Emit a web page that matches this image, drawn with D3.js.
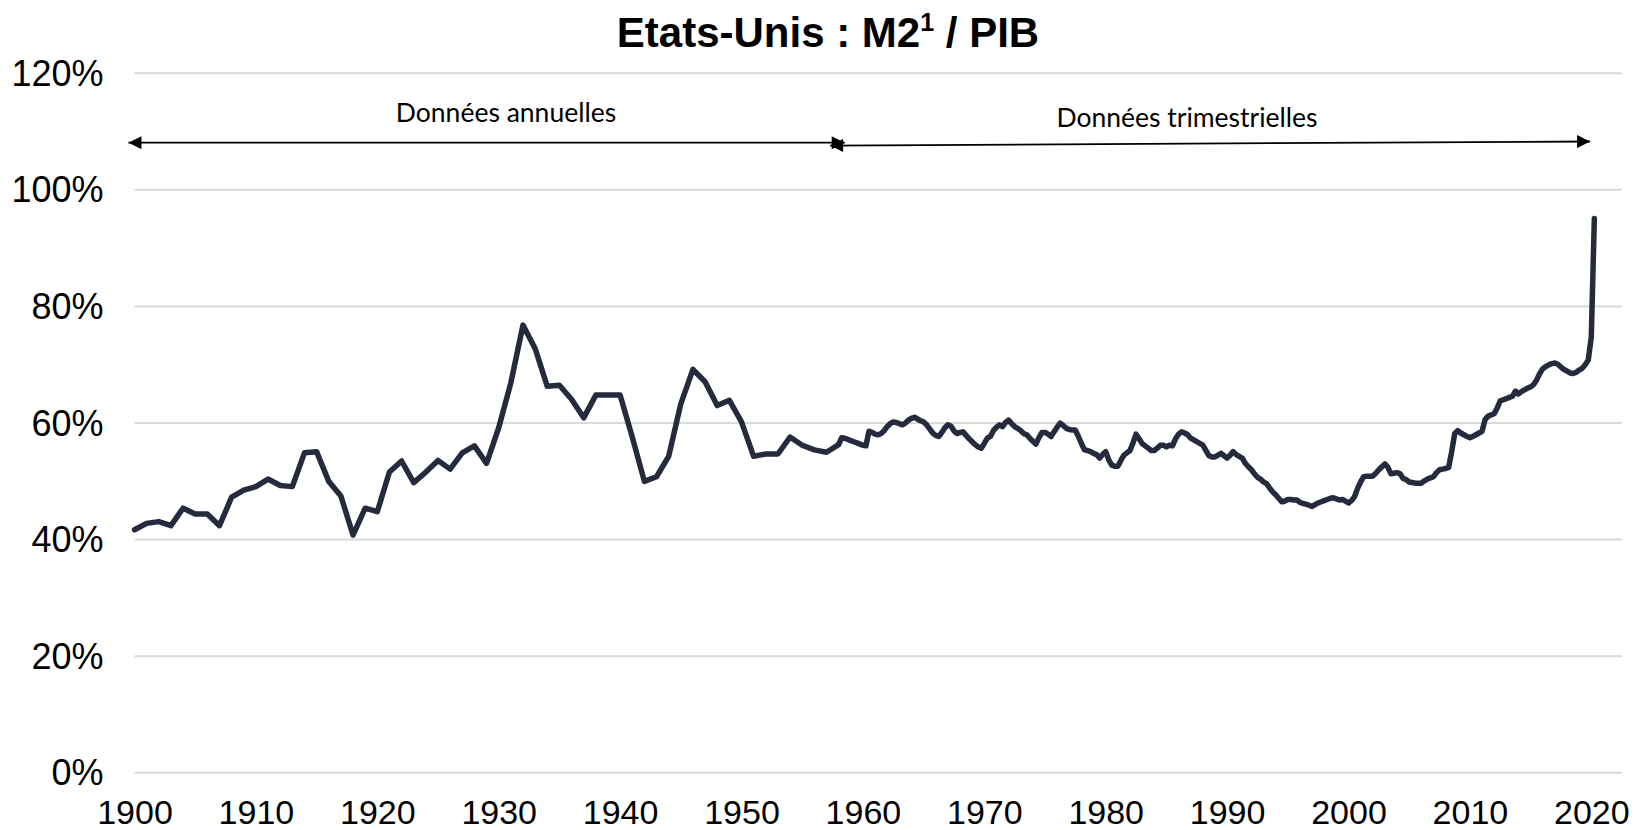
<!DOCTYPE html>
<html>
<head>
<meta charset="utf-8">
<script src="https://cdn.jsdelivr.net/npm/d3@7"></script>
<style>
  html, body { margin: 0; padding: 0; background: #fff; }
  svg { display: block; }
</style>
</head>
<body>
<svg id="chart" width="1643" height="830"></svg>
<script>
// ---------- DATA ----------
const title = "Etats-Unis : M2";
const titleSup = "1";
const titleTail = " / PIB";

const annualYears = d3.range(1900, 1958);
const annualValues = [
  41.6, 42.7, 43.0, 42.3, 45.3, 44.3, 44.3, 42.3, 47.2, 48.4,
  49.0, 50.3, 49.2, 49.0, 54.8, 55.0, 49.9, 47.4, 40.7, 45.3,
  44.7, 51.5, 53.4, 49.7, 51.5, 53.5, 52.0, 54.8, 56.0, 53.0,
  59.1, 66.8, 76.7, 72.7, 66.2, 66.4, 64.0, 60.8, 64.7, 64.7,
  64.7, 57.5, 49.9, 50.7, 54.2, 63.2, 69.1, 67.0, 62.9, 63.8,
  60.1, 54.2, 54.6, 54.6, 57.5, 56.1, 55.3, 54.9
];

// quarterly values 1958Q1 .. 2020Q2 (4 per year)
const quarterlyStartYear = 1958;
const quarterlyValues = [
  56.2, 57.4, 57.3, 57.1,   // 1958
  56.9, 56.7, 56.5, 56.3,   // 1959
  56.1, 56.0, 58.5, 58.3,   // 1960
  58.0, 57.9, 58.1, 58.6,   // 1961
  59.3, 59.8, 60.1, 60.0,   // 1962
  59.8, 59.6, 59.9, 60.4,   // 1963
  60.7, 60.9, 60.6, 60.3,   // 1964
  60.1, 59.6, 58.9, 58.2,   // 1965
  57.8, 57.6, 58.3, 59.1,   // 1966
  59.6, 59.4, 58.6, 58.1,   // 1967
  58.3, 58.4, 57.8, 57.2,   // 1968
  56.7, 56.2, 55.8, 55.6,   // 1969
  56.4, 57.3, 57.6, 58.6,   // 1970
  59.2, 59.6, 59.3, 60.0,   // 1971
  60.4, 59.8, 59.3, 59.0,   // 1972
  58.6, 58.1, 57.9, 57.3,   // 1973
  56.8, 56.3, 57.4, 58.3,   // 1974
  58.3, 58.0, 57.6, 58.4,   // 1975
  59.2, 59.9, 59.5, 59.0,   // 1976
  58.8, 58.7, 58.7, 57.6,   // 1977
  56.4, 55.3, 55.2, 55.0,   // 1978
  54.7, 54.5, 53.9, 54.5,   // 1979
  55.0, 53.6, 52.7, 52.5,   // 1980
  52.5, 53.5, 54.4, 54.8,   // 1981
  55.2, 56.5, 58.0, 57.2,   // 1982
  56.4, 56.0, 55.6, 55.2,   // 1983
  55.2, 55.6, 56.1, 56.1,   // 1984
  55.8, 56.1, 56.0, 57.2,   // 1985
  58.0, 58.4, 58.2, 57.9,   // 1986
  57.3, 57.0, 56.7, 56.4,   // 1987
  56.1, 55.2, 54.3, 54.1,   // 1988
  54.1, 54.4, 54.7, 54.3,   // 1989
  53.9, 54.4, 55.0, 54.5,   // 1990
  54.2, 53.9, 53.0, 52.4,   // 1991
  51.9, 51.2, 50.6, 50.3,   // 1992
  49.8, 49.5, 48.8, 48.1,   // 1993
  47.6, 47.0, 46.4, 46.5,   // 1994
  46.8, 46.8, 46.7, 46.7,   // 1995
  46.3, 46.1, 46.0, 45.8,   // 1996
  45.6, 45.9, 46.2, 46.4,   // 1997
  46.6, 46.8, 47.0, 47.1,   // 1998
  46.9, 46.7, 46.8, 46.5,   // 1999
  46.2, 46.6, 47.3, 48.7,   // 2000
  49.8, 50.7, 50.8, 50.8,   // 2001
  50.8, 51.3, 51.9, 52.4,   // 2002
  52.9, 52.3, 51.2, 51.3,   // 2003
  51.4, 51.2, 50.4, 50.2,   // 2004
  49.8, 49.7, 49.6, 49.6,   // 2005
  49.6, 50.0, 50.3, 50.5,   // 2006
  50.7, 51.4, 51.9, 52.0,   // 2007
  52.1, 52.3, 55.0, 58.1,   // 2008
  58.6, 58.2, 57.9, 57.6,   // 2009
  57.4, 57.6, 57.9, 58.2,   // 2010
  58.5, 60.5, 61.1, 61.3,   // 2011
  61.5, 62.5, 63.7, 63.9,   // 2012
  64.1, 64.3, 64.5, 65.4,   // 2013
  64.9, 65.3, 65.6, 65.9,   // 2014
  66.1, 66.5, 67.3, 68.4,   // 2015
  69.2, 69.6, 69.9, 70.1,   // 2016
  70.2, 70.0, 69.5, 69.1,   // 2017
  68.8, 68.5, 68.4, 68.6,   // 2018
  69.0, 69.3, 69.9, 70.7,   // 2019
  74.7, 95.0                // 2020
];

const yTicks = [0, 20, 40, 60, 80, 100, 120];
const yTickLabels = ["0%", "20%", "40%", "60%", "80%", "100%", "120%"];
const xTicks = [1900, 1910, 1920, 1930, 1940, 1950, 1960, 1970, 1980, 1990, 2000, 2010, 2020];

// annotation ranges (years) and heights (in %)
const periodLabels = ["Données annuelles", "Données trimestrielles"];
const periodLabelPos = [[1930.6, 111.6], [1986.7, 110.7]];
const periodArrows = [
  { x1: 1899.5, y1: 108.0, x2: 1958.5, y2: 108.0 },
  { x1: 1957.3, y1: 107.5, x2: 2019.9, y2: 108.2 }
];

// ---------- BUILD SERIES ----------
const series = annualYears.map((yr, i) => ({ t: yr, v: annualValues[i] }));
quarterlyValues.forEach((v, i) => {
  series.push({ t: quarterlyStartYear + Math.floor(i / 4) + (i % 4) / 4, v: v });
});

// ---------- LAYOUT ----------
const svg = d3.select("#chart");
const plotLeft = 134.5, plotRight = 1622, plotTop = 72.7, plotBottom = 772.3;

const x = d3.scaleLinear().domain([1900, 2020]).range([plotLeft, 1591.3]);
const y = d3.scaleLinear().domain([0, 120]).range([plotBottom, plotTop]);

// gridlines + y labels
const yAxis = d3.axisLeft(y)
  .tickValues(yTicks)
  .tickFormat((d, i) => yTickLabels[i])
  .tickSize(-(plotRight - plotLeft))
  .tickPadding(31);

const gy = svg.append("g")
  .attr("transform", `translate(${plotLeft},0)`)
  .call(yAxis);
gy.select(".domain").remove();
gy.selectAll(".tick line").attr("stroke", "#d9d9d9").attr("stroke-width", 2);
gy.selectAll(".tick text")
  .attr("font-family", "'Liberation Sans', Arial, sans-serif")
  .attr("font-size", 36)
  .attr("fill", "#000")
  .attr("dy", "0.35em");

// x labels
const xAxis = d3.axisBottom(x)
  .tickValues(xTicks)
  .tickFormat(d3.format("d"))
  .tickSize(0)
  .tickPadding(28);
const gx = svg.append("g")
  .attr("transform", `translate(0,${plotBottom})`)
  .call(xAxis);
gx.select(".domain").remove();
gx.selectAll(".tick text")
  .attr("font-family", "'Liberation Sans', Arial, sans-serif")
  .attr("font-size", 34)
  .attr("fill", "#000");

// line
const line = d3.line()
  .x(d => x(d.t))
  .y(d => y(d.v));
svg.append("path")
  .datum(series)
  .attr("fill", "none")
  .attr("stroke", "#252a3d")
  .attr("stroke-width", 5.5)
  .attr("stroke-linejoin", "round")
  .attr("stroke-linecap", "round")
  .attr("d", line);

// title
const tt = svg.append("text")
  .attr("x", 828)
  .attr("y", 47)
  .attr("text-anchor", "middle")
  .attr("font-family", "'Liberation Sans', Arial, sans-serif")
  .attr("font-weight", "bold")
  .attr("font-size", 42)
  .attr("fill", "#000");
tt.append("tspan").text(title);
tt.append("tspan").attr("font-size", 25).attr("dy", -16).text(titleSup);
tt.append("tspan").attr("dy", 16).text(titleTail);

// arrows
const defs = svg.append("defs");
["start", "end"].forEach(k => {
  defs.append("marker")
    .attr("id", "arrow-" + k)
    .attr("viewBox", "0 0 10 10")
    .attr("refX", k === "end" ? 10 : 0)
    .attr("refY", 5)
    .attr("markerWidth", 16)
    .attr("markerHeight", 13)
    .attr("markerUnits", "userSpaceOnUse")
    .attr("orient", "auto")
    .append("path")
    .attr("d", k === "end" ? "M0,0 L10,5 L0,10 Z" : "M10,0 L0,5 L10,10 Z")
    .attr("fill", "#000");
});
svg.selectAll(".period-arrow")
  .data(periodArrows)
  .enter().append("line")
  .attr("class", "period-arrow")
  .attr("x1", d => x(d.x1)).attr("y1", d => y(d.y1))
  .attr("x2", d => x(d.x2)).attr("y2", d => y(d.y2))
  .attr("stroke", "#000")
  .attr("stroke-width", 1.8)
  .attr("marker-start", "url(#arrow-start)")
  .attr("marker-end", "url(#arrow-end)");

svg.selectAll(".period-label")
  .data(periodLabels)
  .enter().append("text")
  .attr("class", "period-label")
  .attr("x", (d, i) => x(periodLabelPos[i][0]))
  .attr("y", (d, i) => y(periodLabelPos[i][1]))
  .attr("text-anchor", "middle")
  .attr("font-family", "Lato, 'Open Sans', sans-serif")
  .attr("font-size", 26.5)
  .attr("fill", "#000")
  .text(d => d);
</script>
</body>
</html>
